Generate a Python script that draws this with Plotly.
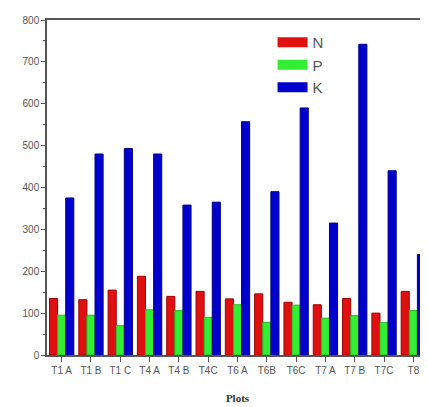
import plotly.graph_objects as go

categories = ["T1 A", "T1 B", "T1 C", "T4 A", "T4 B", "T4C", "T6 A", "T6B", "T6C", "T7 A", "T7 B", "T7C", "T8"]
N_values = [135, 132, 155, 188, 140, 152, 134, 146, 126, 120, 135, 100, 152]
P_values = [95, 95, 70, 108, 106, 90, 120, 78, 119, 88, 94, 78, 106]
K_values = [375, 480, 493, 480, 358, 365, 557, 390, 590, 315, 742, 440, 240]
series_names = ["N", "P", "K"]
series_colors = ["#e01010", "#33ee33", "#0000cc"]
series_edges = ["#a00000", "#22bb22", "#000088"]
y_ticks = [0, 100, 200, 300, 400, 500, 600, 700, 800]

fig = go.Figure()
for name, vals, col, edge in zip(series_names, [N_values, P_values, K_values], series_colors, series_edges):
    fig.add_trace(go.Bar(x=categories, y=vals, name=name, showlegend=False, legendgroup=name,
                         marker=dict(color=col, line=dict(color=edge, width=1))))
# legend-only entries with wide swatches
for name, col in zip(series_names, series_colors):
    fig.add_trace(go.Scatter(x=[None], y=[None], mode="lines", name=name, legendgroup=name,
                             line=dict(color=col, width=13)))

# page body has an 8px default margin, so the figure is sized to fit the 428x407 window
fig.update_layout(
    width=420, height=399,
    margin=dict(l=39, r=0, t=12, b=52),
    paper_bgcolor="white", plot_bgcolor="white",
    barmode="group", bargap=0.17, bargroupgap=0,
    showlegend=True,
    legend=dict(x=0.592, y=0.982, xanchor="left", yanchor="top",
                font=dict(family="Arial, Liberation Sans", size=15, color="#555"),
                bgcolor="rgba(0,0,0,0)", tracegroupgap=0, itemwidth=30),
    xaxis=dict(
        type="category",
        range=[-0.5, 12.5],
        showline=True, linecolor="#555", linewidth=1.5, mirror=True,
        ticks="outside", ticklen=5, tickcolor="#555",
        tickfont=dict(family="Arial, Liberation Sans", size=10, color="#555"),
        tickangle=0,
        title=dict(text="<b>Plots</b>", font=dict(family="Liberation Serif, Times New Roman", size=11, color="#333"), standoff=20),
    ),
    yaxis=dict(
        range=[0, 800],
        tickvals=y_ticks,
        showline=True, linecolor="#555", linewidth=1.5, mirror=False,
        ticks="outside", ticklen=4, tickcolor="#555",
        minor=dict(dtick=50, ticklen=2, tickcolor="#555", ticks="outside"),
        showgrid=False, zeroline=False,
        tickfont=dict(family="Arial, Liberation Sans", size=10, color="#555"),
    ),
)

fig.write_html("out.html")
